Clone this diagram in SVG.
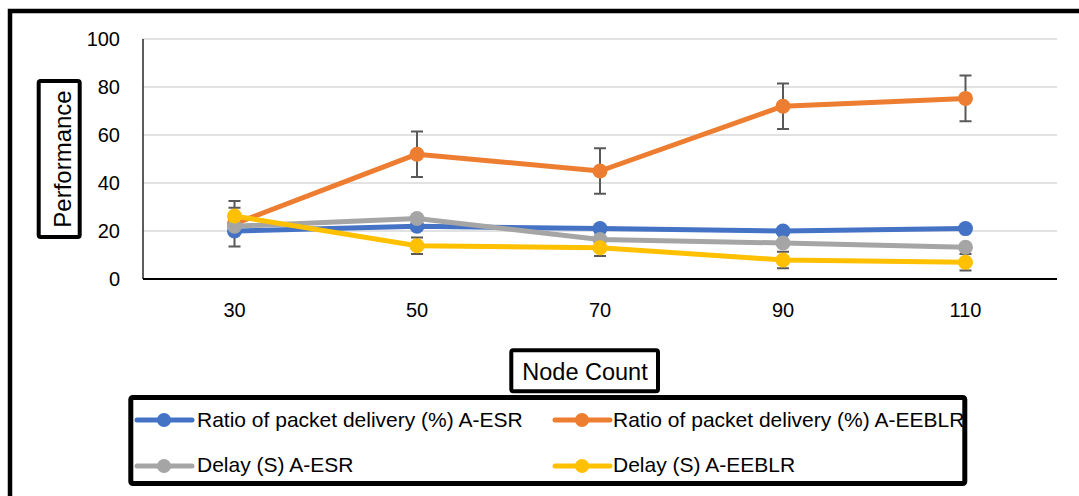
<svg xmlns="http://www.w3.org/2000/svg" width="1079" height="496" viewBox="0 0 1079 496">
<style>
text{font-family:"Liberation Sans",Arial,sans-serif;fill:#000}
.tick{font-size:20px}
.leg{font-size:21px}
.grid{stroke:#D9D9D9;stroke-width:1.6}
.eb{stroke:#595959;stroke-width:2;fill:none}
.s{fill:none;stroke-width:5;stroke-linejoin:round;stroke-linecap:round}
.box{fill:#fff;stroke:#000}
</style>
<rect x="0" y="0" width="1079" height="496" fill="#fff"/>
<rect id="frame" x="10" y="11" width="1100" height="600" fill="none" stroke="#000" stroke-width="4.5"/>
<g id="grid">
<line class="grid" x1="143" y1="39" x2="1057" y2="39"/>
<line class="grid" x1="143" y1="87" x2="1057" y2="87"/>
<line class="grid" x1="143" y1="135" x2="1057" y2="135"/>
<line class="grid" x1="143" y1="183" x2="1057" y2="183"/>
<line class="grid" x1="143" y1="231" x2="1057" y2="231"/>
</g>
<g id="axes">
<line x1="143" y1="39" x2="143" y2="279" stroke="#262626" stroke-width="1.5"/>
<line x1="143" y1="279" x2="1057" y2="279" stroke="#000" stroke-width="2"/>
<g class="tick" text-anchor="end">
<text x="120" y="46">100</text>
<text x="120" y="94">80</text>
<text x="120" y="142">60</text>
<text x="120" y="190">40</text>
<text x="120" y="238">20</text>
<text x="120" y="286">0</text>
</g>
<g class="tick" text-anchor="middle">
<text x="234.5" y="317">30</text>
<text x="417" y="317">50</text>
<text x="600" y="317">70</text>
<text x="783" y="317">90</text>
<text x="965.5" y="317">110</text>
</g>
</g>
<g id="errorbars" class="eb">
<path d="M234.5 201v45.6M228.5 201h12M228.5 246.6h12"/>
<path d="M417 131.4v45.6M411 131.4h12M411 177h12"/>
<path d="M600 148.2v45.6M594 148.2h12M594 193.8h12"/>
<path d="M783 83.4v45.6M777 83.4h12M777 129h12"/>
<path d="M965.5 75.6v45.6M959.5 75.6h12M959.5 121.2h12"/>
<path d="M234.5 207.7v16.6M228.5 207.7h12M228.5 224.3h12"/>
<path d="M417 237.4v16.6M411 237.4h12M411 254h12"/>
<path d="M600 239.4v16.6M594 239.4h12M594 256h12"/>
<path d="M783 251.7v16.6M777 251.7h12M777 268.3h12"/>
<path d="M965.5 254v16.6M959.5 254h12M959.5 270.6h12"/>
</g>
<g id="series-blue">
<polyline class="s" stroke="#4472C4" points="234.5,231 417,226.2 600,228.6 783,231 965.5,228.6"/>
<g fill="#4472C4"><circle cx="234.5" cy="231" r="7.5"/><circle cx="417" cy="226.2" r="7.5"/><circle cx="600" cy="228.6" r="7.5"/><circle cx="783" cy="231" r="7.5"/><circle cx="965.5" cy="228.6" r="7.5"/></g>
</g>
<g id="series-orange">
<polyline class="s" stroke="#ED7D31" points="234.5,223.8 417,154.2 600,171 783,106.2 965.5,98.4"/>
<g fill="#ED7D31"><circle cx="234.5" cy="223.8" r="7.5"/><circle cx="417" cy="154.2" r="7.5"/><circle cx="600" cy="171" r="7.5"/><circle cx="783" cy="106.2" r="7.5"/><circle cx="965.5" cy="98.4" r="7.5"/></g>
</g>
<g id="series-gray">
<polyline class="s" stroke="#A5A5A5" points="234.5,226.2 417,218.5 600,239.5 783,243 965.5,247.3"/>
<g fill="#A5A5A5"><circle cx="234.5" cy="226.2" r="7.5"/><circle cx="417" cy="218.5" r="7.5"/><circle cx="600" cy="239.5" r="7.5"/><circle cx="783" cy="243" r="7.5"/><circle cx="965.5" cy="247.3" r="7.5"/></g>
</g>
<g id="series-yellow">
<polyline class="s" stroke="#FFC000" points="234.5,216 417,245.7 600,247.7 783,260 965.5,262.3"/>
<g fill="#FFC000"><circle cx="234.5" cy="216" r="7.5"/><circle cx="417" cy="245.7" r="7.5"/><circle cx="600" cy="247.7" r="7.5"/><circle cx="783" cy="260" r="7.5"/><circle cx="965.5" cy="262.3" r="7.5"/></g>
</g>
<g id="y-title">
<rect class="box" x="38.7" y="81" width="41" height="156" rx="2" stroke-width="4"/>
<text transform="translate(70.5 159) rotate(-90)" text-anchor="middle" font-size="24">Performance</text>
</g>
<g id="x-title">
<rect class="box" x="511.3" y="350.3" width="146.7" height="41" rx="2" stroke-width="4"/>
<text x="585" y="380" text-anchor="middle" font-size="23.5">Node Count</text>
</g>
<g id="legend">
<g class="s"><line x1="137" y1="420" x2="192" y2="420" stroke="#4472C4"/><line x1="555" y1="420" x2="610" y2="420" stroke="#ED7D31"/><line x1="137" y1="466" x2="192" y2="466" stroke="#A5A5A5"/><line x1="555" y1="466" x2="610" y2="466" stroke="#FFC000"/></g>
<circle cx="164" cy="420" r="7" fill="#4472C4"/><circle cx="582" cy="420" r="7" fill="#ED7D31"/><circle cx="164" cy="466" r="7" fill="#A5A5A5"/><circle cx="582" cy="466" r="7" fill="#FFC000"/>
<text class="leg" x="197" y="427">Ratio of packet delivery (%) A-ESR</text>
<text class="leg" x="613" y="427">Ratio of packet delivery (%) A-EEBLR</text>
<text class="leg" x="197" y="472">Delay (S) A-ESR</text>
<text class="leg" x="613" y="472">Delay (S) A-EEBLR</text>
<rect x="130.8" y="397.5" width="834" height="86" rx="2" fill="none" stroke="#000" stroke-width="5"/>
</g>
</svg>
